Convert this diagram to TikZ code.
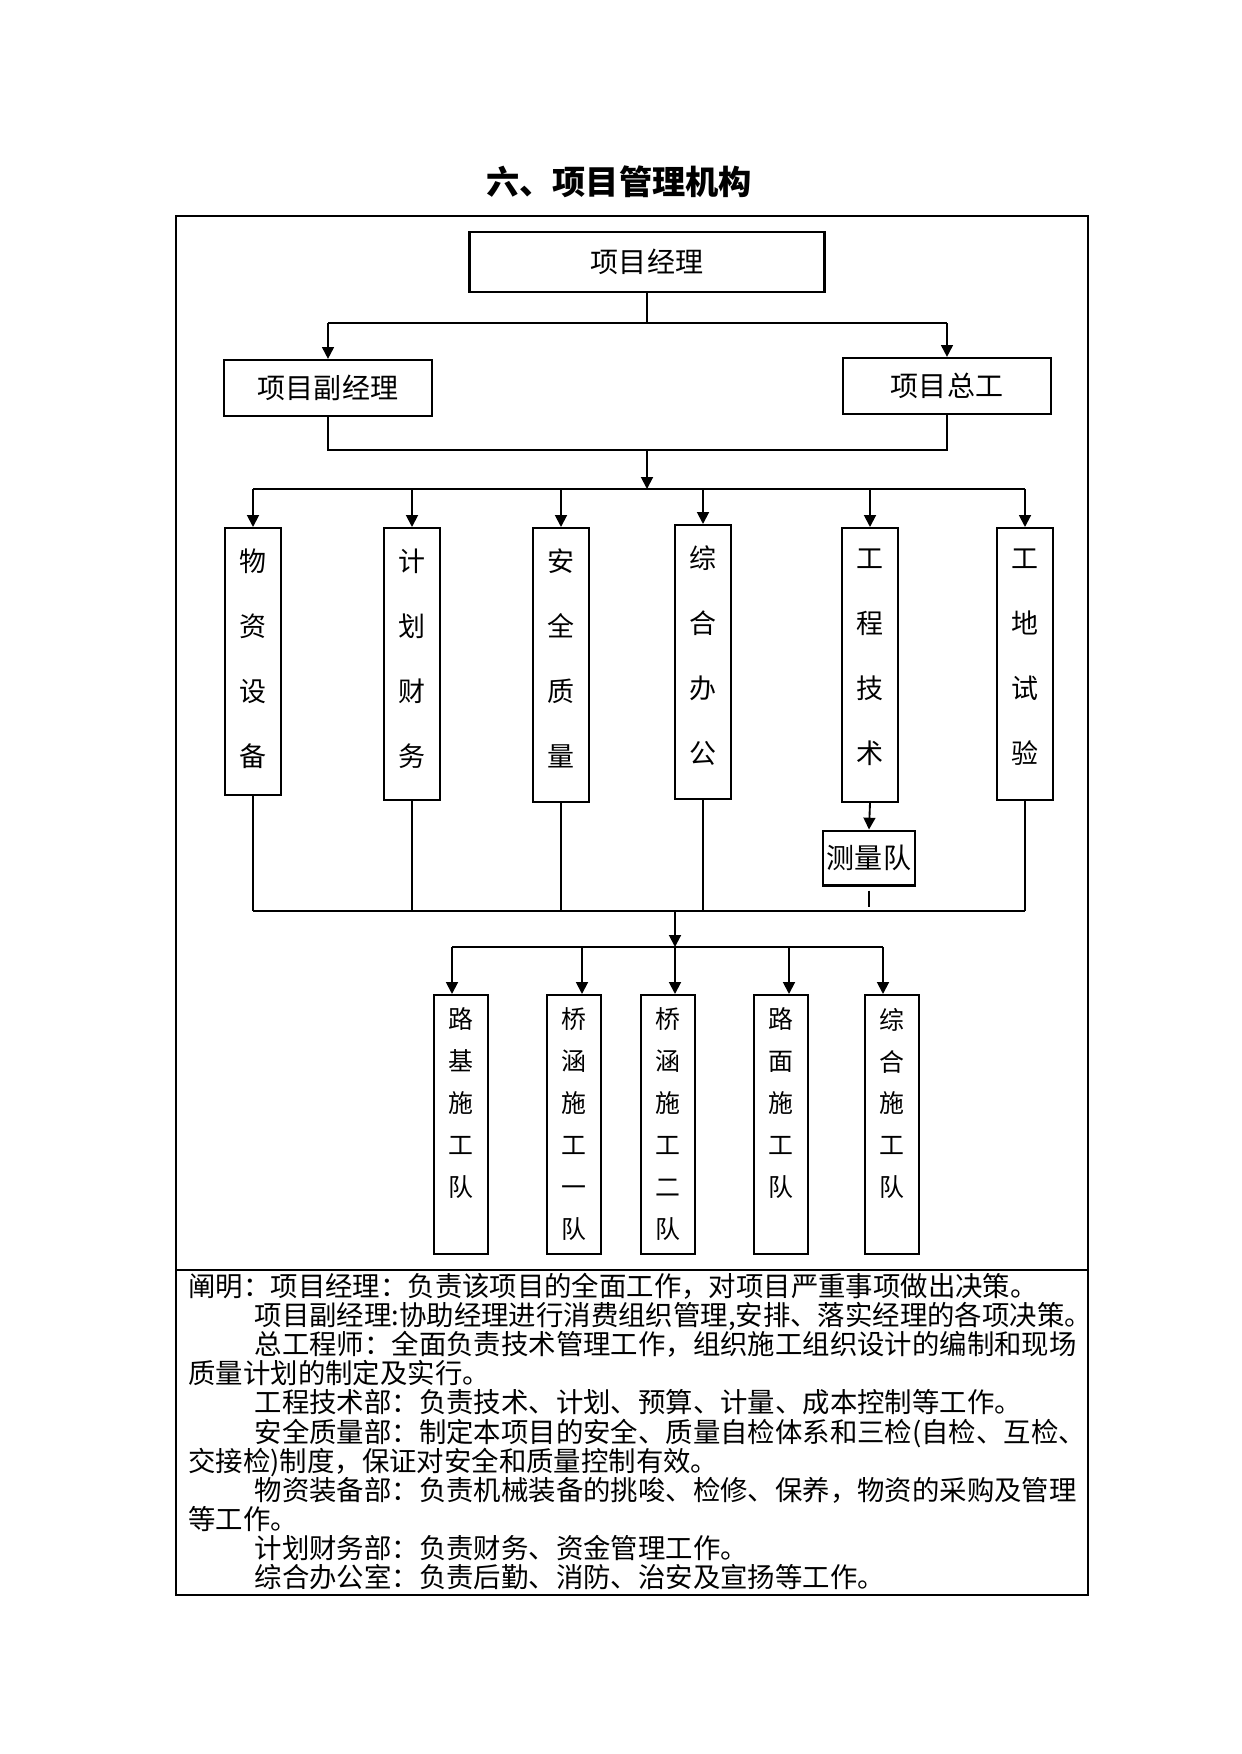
\documentclass[tikz,border=0pt]{standalone}
\usepackage{fontspec}
\setmainfont{Noto Sans CJK SC}
\usetikzlibrary{arrows.meta}
\tikzset{
  box/.style={draw,line width=1pt,inner sep=0pt,font=\fontsize{13.5}{16}\selectfont},
  dept/.style={draw,line width=1pt,anchor=north,inner xsep=2.25mm,inner ysep=3.5mm,font=\fontsize{13}{31.3}\selectfont},
  team/.style={draw,line width=1pt,anchor=north,inner xsep=2.05mm,inner ysep=2.2mm,font=\fontsize{12}{20.2}\selectfont},
  link/.style={line width=0.9pt},
  feed/.style={line width=0.6pt},
  arr/.style={link,-{Triangle[length=2mm,width=2mm]}}
}

\begin{document}
\begin{tikzpicture}[x=0.16933mm,y=-0.16933mm]
\useasboundingbox (0,0) rectangle (1241,1754);
\node[font=\fontsize{16}{20}\selectfont\bfseries] (title) at (619,182) {六、项目管理机构};
\draw[line width=1.4pt] (176,216) rectangle (1088,1595);
\draw[line width=1pt] (176,1270) -- (1088,1270);

\node[box,minimum width=60.1mm,minimum height=10.2mm] (pm) at (647,262) {项目经理};
\node[box,minimum width=35.1mm,minimum height=9.5mm] (dpm) at (328,388) {项目副经理};
\node[box,minimum width=35.1mm,minimum height=9.5mm] (ce) at (947,386) {项目总工};

\coordinate (j1) at (647,323);
\coordinate (j2) at (647,450);
\coordinate (j3) at (647,489);
\draw[link] (pm.south) -- (j1);
\draw[link] (dpm.north |- j1) -- (ce.north |- j1);
\draw[arr] (dpm.north |- j1) -- (dpm.north);
\draw[arr] (ce.north |- j1) -- (ce.north);
\draw[link] (dpm.south) -- (dpm.south |- j2) -- (ce.south |- j2) -- (ce.south);
\draw[arr] (j2) -- (j3);

\node[dept] (d1) at (253,527) {\parbox[t][38.2mm][t]{5mm}{\centering 物\\资\\设\\备}};
\node[dept] (d2) at (412,527) {\parbox[t][39.1mm][t]{5mm}{\centering 计\\划\\财\\务}};
\node[dept] (d3) at (561,527) {\parbox[t][39.4mm][t]{5mm}{\centering 安\\全\\质\\量}};
\node[dept] (d4) at (703,524) {\parbox[t][39.4mm][t]{5mm}{\centering 综\\合\\办\\公}};
\node[dept] (d5) at (870,527) {\parbox[t][39.4mm][t]{5mm}{\centering 工\\程\\技\\术}};
\node[dept] (d6) at (1025,527) {\parbox[t][39.1mm][t]{5mm}{\centering 工\\地\\试\\验}};
\node[box,minimum width=15.7mm,minimum height=9.3mm] (sv) at (869,858) {测量队};

\draw[link] (d1.north |- j3) -- (d6.north |- j3);
\draw[arr] (d1.north |- j3) -- (d1.north);
\draw[arr] (d2.north |- j3) -- (d2.north);
\draw[arr] (d3.north |- j3) -- (d3.north);
\draw[arr] (d4.north |- j3) -- (d4.north);
\draw[arr] (d5.north |- j3) -- (d5.north);
\draw[arr] (d6.north |- j3) -- (d6.north);

\coordinate (j4) at (675,911);
\coordinate (j5) at (675,947);
\coordinate (svend) at (869,907);
\draw[feed] (d1.south) -- (d1.south |- j4);
\draw[feed] (d2.south) -- (d2.south |- j4);
\draw[feed] (d3.south) -- (d3.south |- j4);
\draw[feed] (d4.south) -- (d4.south |- j4);
\draw[feed] (d6.south) -- (d6.south |- j4);
\draw[feed] (d1.south |- j4) -- (d6.south |- j4);
\draw[arr] (d5.south) -- (sv.north);
\draw[feed] ([yshift=-0.7mm]sv.south) -- (svend);
\draw[arr] (j4) -- (j5);

\node[team] (t1) at (461,994) {\parbox[t][39.5mm][t]{5mm}{\centering 路\\基\\施\\工\\队}};
\node[team] (t2) at (574,994) {\parbox[t][39.5mm][t]{5mm}{\centering 桥\\涵\\施\\工\\一\\队}};
\node[team] (t3) at (668,994) {\parbox[t][39.5mm][t]{5mm}{\centering 桥\\涵\\施\\工\\二\\队}};
\node[team] (t4) at (781,994) {\parbox[t][39.5mm][t]{5mm}{\centering 路\\面\\施\\工\\队}};
\node[team] (t5) at (892,994) {\parbox[t][39.5mm][t]{5mm}{\centering 综\\合\\施\\工\\队}};

\coordinate (k1) at (452,947);
\coordinate (k2) at (582,947);
\coordinate (k4) at (789,947);
\coordinate (k5) at (883,947);
\draw[link] (k1) -- (k5);
\draw[arr] (k1) -- (k1 |- t1.north);
\draw[arr] (k2) -- (k2 |- t2.north);
\draw[arr] (j5) -- (j5 |- t3.north);
\draw[arr] (k4) -- (k4 |- t4.north);
\draw[arr] (k5) -- (k5 |- t5.north);

\node[anchor=north west,inner sep=0pt,font=\fontsize{13.2}{14}\selectfont] (note) at (188,1273) {\parbox[t]{156mm}{%
阐明：项目经理：负责该项目的全面工作，对项目严重事项做出决策。\\
\hspace*{2.42em}项目副经理:协助经理进行消费组织管理,安排、落实经理的各项决策。\\
\hspace*{2.42em}总工程师：全面负责技术管理工作，组织施工组织设计的编制和现场\\
质量计划的制定及实行。\\
\hspace*{2.42em}工程技术部：负责技术、计划、预算、计量、成本控制等工作。\\
\hspace*{2.42em}安全质量部：制定本项目的安全、质量自检体系和三检(自检、互检、\\
交接检)制度，保证对安全和质量控制有效。\\
\hspace*{2.42em}物资装备部：负责机械装备的挑唆、检修、保养，物资的采购及管理\\
等工作。\\
\hspace*{2.42em}计划财务部：负责财务、资金管理工作。\\
\hspace*{2.42em}综合办公室：负责后勤、消防、治安及宣扬等工作。}};
\end{tikzpicture}
\end{document}
